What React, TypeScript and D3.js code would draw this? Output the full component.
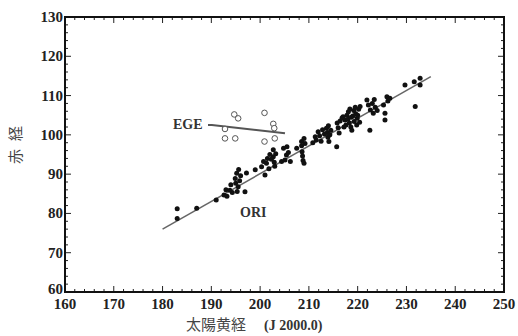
import React from "react";
import * as d3 from "d3";

const xTicks = [160, 170, 180, 190, 200, 210, 220, 230, 240, 250];
const yTicks = [60, 70, 80, 90, 100, 110, 120, 130];

const oriX = [183.0,183.0,187.0,191.0,192.6,193.0,193.2,194.0,194.3,194.9,195.0,195.2,195.5,195.6,195.8,196.0,196.9,197.2,199.0,200.3,200.7,201.0,201.3,201.5,201.8,202.7,202.7,202.9,203.0,203.2,204.4,204.8,205.1,205.4,205.5,205.8,206.2,207.5,208.5,208.5,208.6,208.7,208.8,209.0,209.0,211.3,211.5,211.9,212.2,212.5,213.6,213.8,213.9,214.0,214.1,214.5,215.7,215.8,216.0,216.2,216.4,217.4,217.6,217.8,218.0,218.1,218.3,218.6,218.8,219.0,219.2,219.3,219.6,219.8,219.9,220.2,220.4,221.9,222.2,222.5,222.6,223.0,223.2,223.6,224.0,225.3,225.6,225.6,226.0,226.2,226.6,229.7,231.6,231.8,232.8,232.8,217.0,217.2,218.4,218.7,219.5,220.0,213.2,212.8,214.3,209.2,202.3,202.0,195.3,193.8,216.8,220.5,223.4,210.8];
const oriY = [81.2,78.7,81.3,83.4,84.7,86.0,84.4,87.3,85.3,88.9,87.7,90.2,86.8,91.2,88.3,89.6,85.5,90.3,91.1,91.9,93.2,89.8,92.8,94.0,91.4,96.2,94.4,93.0,92.0,95.2,93.2,96.6,93.6,94.9,97.0,95.5,93.2,96.6,98.3,97.2,95.7,94.6,93.5,99.1,92.8,99.5,98.7,100.8,99.8,98.4,101.7,100.6,99.4,102.3,98.3,101.2,97.0,103.0,101.8,100.5,103.5,103.8,102.5,105.0,104.0,105.9,103.0,102.0,101.2,104.8,106.2,103.4,105.4,102.5,104.2,106.5,103.2,108.9,107.6,101.2,106.3,108.0,105.5,107.0,106.2,107.6,105.5,103.8,109.7,108.6,109.3,112.7,113.5,107.2,114.4,112.7,104.6,102.0,106.6,104.5,107.0,105.0,100.2,101.3,100.0,97.8,93.8,95.0,85.6,85.9,104.3,107.2,109.0,98.0];

const egeX = [194.7,195.5,200.9,192.8,192.8,194.9,202.7,202.9,203.0,200.9];
const egeY = [105.2,104.2,105.6,101.5,99.1,99.1,102.8,101.7,99.1,98.3];

const oriFitX = [180, 235];
const oriFitY = [76, 114.8];
const egeFitX = [190.1, 205.1];
const egeFitY = [102.5, 100.4];

export default function App() {
  const W = 518, H = 336;
  const L = 65, R = 504, T = 17, B = 292;
  const x = d3.scaleLinear().domain([160, 250]).range([L, R]);
  const y = d3.scaleLinear().domain([60, 130]).range([B, T]);
  const xMinor = d3.range(160, 251, 2);
  const yMinor = d3.range(60, 131, 2);
  const fitPath = (xs: number[], ys: number[]) =>
    d3.line<[number, number]>().x((d) => x(d[0])).y((d) => y(d[1]))(xs.map((v, i) => [v, ys[i]]) as [number, number][]) || "";
  const serif = "Liberation Serif, Times New Roman, DejaVu Serif, serif";
  const cjk = "Noto Sans CJK JP, sans-serif";
  return (
    <svg width={W} height={H} style={{ position: "absolute", left: 0, top: 0, background: "#fff" }}>
      {xMinor.map((v) => {
        const len = v % 10 === 0 ? 6 : 3;
        return (
          <g key={"xm" + v} stroke="#222" strokeWidth={1}>
            <line x1={x(v)} x2={x(v)} y1={B} y2={B - len} />
            <line x1={x(v)} x2={x(v)} y1={T} y2={T + len} />
          </g>
        );
      })}
      {yMinor.map((v) => {
        const len = v % 10 === 0 ? 6 : 3;
        return (
          <g key={"ym" + v} stroke="#222" strokeWidth={1}>
            <line x1={L} x2={L + len} y1={y(v)} y2={y(v)} />
            <line x1={R} x2={R - len} y1={y(v)} y2={y(v)} />
          </g>
        );
      })}
      <rect x={L} y={T} width={R - L} height={B - T} fill="none" stroke="#111" strokeWidth={2} />
      {xTicks.map((v) => (
        <text key={"xt" + v} x={x(v)} y={B + 17} textAnchor="middle" style={{ fontFamily: serif, fontWeight: 700, fontSize: 15 }} fill="#222">
          {v}
        </text>
      ))}
      {yTicks.map((v) => (
        <text key={"yt" + v} x={L - 2} y={y(v) + 5 - (v === 60 ? 3 : 0)} textAnchor="end" style={{ fontFamily: serif, fontWeight: 700, fontSize: 15 }} fill="#222">
          {v}
        </text>
      ))}
      <path d={fitPath(oriFitX, oriFitY)} stroke="#666" strokeWidth={1.5} fill="none" />
      <path d={fitPath(egeFitX, egeFitY)} stroke="#555" strokeWidth={2} fill="none" />
      {oriX.map((v, i) => (
        <circle key={"o" + i} cx={x(v)} cy={y(oriY[i])} r={2.5} fill="#111" />
      ))}
      {egeX.map((v, i) => (
        <circle key={"e" + i} cx={x(v)} cy={y(egeY[i])} r={2.8} fill="#fff" stroke="#555" strokeWidth={1} />
      ))}
      <text x={173} y={129} style={{ fontFamily: serif, fontWeight: 700, fontSize: 14 }} fill="#333">EGE</text>
      <line x1={208} x2={212} y1={125} y2={125} stroke="#555" strokeWidth={2} />
      <text x={240} y={217} style={{ fontFamily: serif, fontWeight: 700, fontSize: 14 }} fill="#333">ORI</text>
      <text x={186} y={330} style={{ fontFamily: cjk, fontSize: 15 }} fill="#444">太陽黄経</text>
      <text x={264} y={330} style={{ fontFamily: serif, fontWeight: 700, fontSize: 14 }} fill="#333">(J 2000.0)</text>
      <text transform="translate(21,141) rotate(-90)" textAnchor="middle" style={{ fontFamily: cjk, fontSize: 15, letterSpacing: "8px" }} fill="#444">赤経</text>
    </svg>
  );
}
